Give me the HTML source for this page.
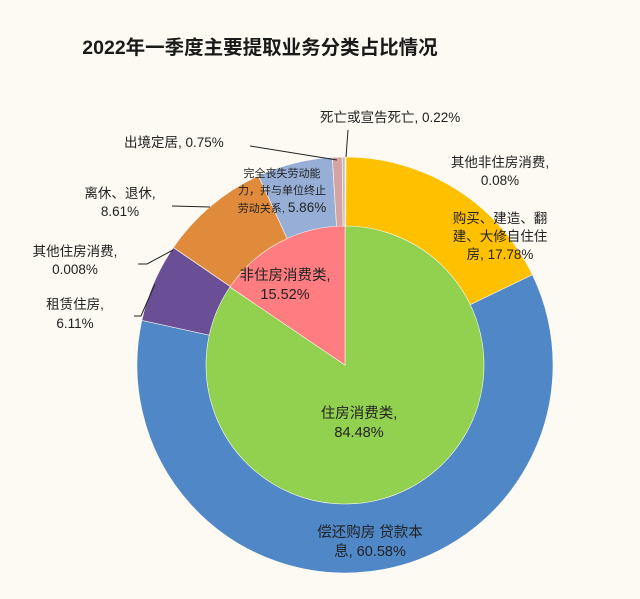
<!DOCTYPE html>
<html><head><meta charset="utf-8">
<style>
html,body{margin:0;padding:0;background:#fcfaf3;}
svg{display:block;font-family:"Liberation Sans","Noto Sans CJK SC",sans-serif;}
</style></head>
<body>
<svg id="chart" width="640" height="599" viewBox="0 0 640 599">
<rect width="640" height="599" fill="#fcfaf3"/>
<text x="260" y="54" text-anchor="middle" font-size="19.5" font-weight="bold" fill="#1a1a1a">2022年一季度主要提取业务分类占比情况</text>
<g id="outer"></g>
<g id="inner"></g>
<g id="labels" font-size="13.5" fill="#222">
<text x="320" y="122">死亡或宣告死亡, 0.22%</text>
<text x="124" y="147">出境定居, 0.75%</text>
<text x="500" y="167" text-anchor="middle">其他非住房消费,</text>
<text x="500" y="185" text-anchor="middle">0.08%</text>
<text x="500" y="223" text-anchor="middle">购买、建造、翻</text>
<text x="500" y="241" text-anchor="middle">建、大修自住住</text>
<text x="500" y="259" text-anchor="middle">房, 17.78%</text>
<text x="282" y="177" text-anchor="middle" font-size="11">完全丧失劳动能</text>
<text x="282" y="194" text-anchor="middle" font-size="11">力，并与单位终止</text>
<text x="282" y="212" text-anchor="middle" font-size="11">劳动关系, <tspan font-size="13.5">5.86%</tspan></text>
<text x="120" y="198" text-anchor="middle">离休、退休,</text>
<text x="120" y="216" text-anchor="middle">8.61%</text>
<text x="75" y="256" text-anchor="middle">其他住房消费,</text>
<text x="75" y="274" text-anchor="middle">0.008%</text>
<text x="75" y="309" text-anchor="middle">租赁住房,</text>
<text x="75" y="328" text-anchor="middle">6.11%</text>
<text x="285" y="280" text-anchor="middle" font-size="14.5">非住房消费类,</text>
<text x="285" y="299" text-anchor="middle" font-size="14.5">15.52%</text>
<text x="359" y="418" text-anchor="middle" font-size="14.5">住房消费类,</text>
<text x="359" y="437" text-anchor="middle" font-size="14.5">84.48%</text>
<text x="370" y="537" text-anchor="middle" font-size="14.5">偿还购房 贷款本</text>
<text x="370" y="556" text-anchor="middle" font-size="14.5">息, 60.58%</text>
</g>
<g fill="none" stroke="#222" stroke-width="1">
<path d="M346,157 L348,130"/>
<path d="M250,146 L337,160"/>
<path d="M172,206 L210,207"/>
<path d="M138,264 L147,264 L173,250"/>
<path d="M134,316 L141,316 L155,284"/>
</g>
</svg>
<script>
const outerNames = ["其他非住房消费","购买、建造、翻建、大修自住住房","偿还购房贷款本息","租赁住房","其他住房消费","离休、退休","完全丧失劳动能力","出境定居","死亡或宣告死亡"];
const outerValues = [0.08, 17.78, 60.58, 6.11, 0.008, 8.61, 5.86, 0.75, 0.22];
const outerColors = ["#ffc000","#ffc000","#4f87c7","#6b4f96","#6b4f96","#e08a3c","#97afd7","#d6a3a3","#bfbfbf"];
const innerNames = ["住房消费类","非住房消费类"];
const innerValues = [84.48, 15.52];
const innerColors = ["#92d050","#ff7c80"];
const cx = 345, cy = 365, rOuter = 208, rInner = 139;
const NS = "http://www.w3.org/2000/svg";
function angle(v, total){ return v / total * Math.PI * 2; }
function pt(a, r){ return [cx + r*Math.sin(a), cy - r*Math.cos(a)]; }
function slicePath(a0, a1, r){
  const p0 = pt(a0, r), p1 = pt(a1, r);
  const large = (a1 - a0) > Math.PI ? 1 : 0;
  return `M${cx},${cy} L${p0[0]},${p0[1]} A${r},${r} 0 ${large} 1 ${p1[0]},${p1[1]} Z`;
}
function drawPie(g, values, colors, names, r, prefix){
  const total = values.reduce((s,v)=>s+v,0);
  let a = 0;
  values.forEach((v,i)=>{
    const a1 = a + angle(v,total);
    const p = document.createElementNS(NS,"path");
    p.setAttribute("d", slicePath(a, a1, r));
    p.setAttribute("fill", colors[i]);
    p.setAttribute("stroke", "#fcfaf3");
    p.setAttribute("stroke-width", "0.6");
    
    
    const t = document.createElementNS(NS,"title");
    t.textContent = names[i] + ", " + v + "%";
    p.appendChild(t);
    g.appendChild(p);
    a = a1;
  });
}
drawPie(document.getElementById("outer"), outerValues, outerColors, outerNames, rOuter, "outer");
drawPie(document.getElementById("inner"), innerValues, innerColors, innerNames, rInner, "inner");
</script>
</body></html>
